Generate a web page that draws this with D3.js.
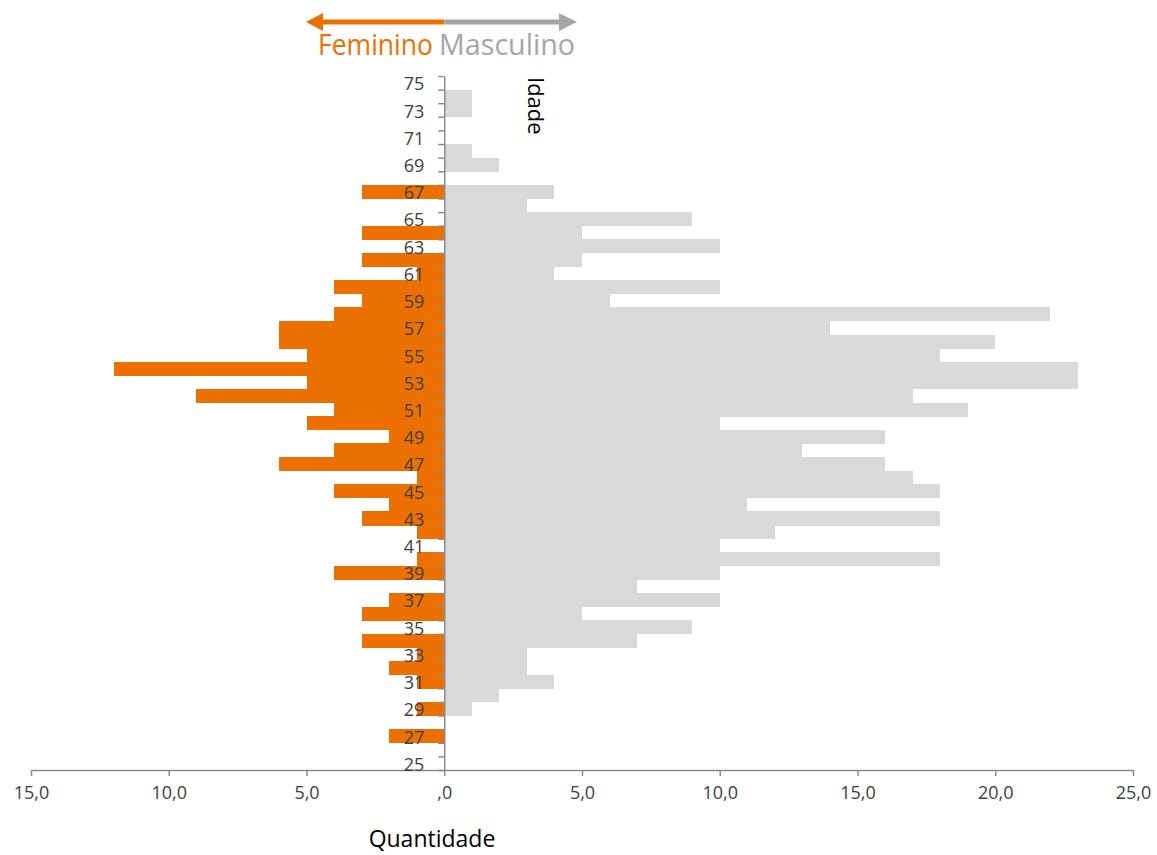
<!DOCTYPE html>
<html>
<head>
<meta charset="utf-8">
<script src="https://cdn.jsdelivr.net/npm/d3@7"></script>
<style>
  html, body { margin: 0; padding: 0; background: #ffffff; }
  svg { display: block; font-family: "Open Sans", "Noto Sans", sans-serif; }
</style>
</head>
<body>
<svg id="chart" width="1157" height="855"></svg>
<script>
// Categories (ages)
const ages = [25,26,27,28,29,30,31,32,33,34,35,36,37,38,39,40,41,42,43,44,45,46,47,48,49,50,
              51,52,53,54,55,56,57,58,59,60,61,62,63,64,65,66,67,68,69,70,71,72,73,74,75];
// Female counts by age (25..75)
const feminino = [0,0,2,0,1,0,1,2,1,3,0,3,2,0,4,1,0,1,3,2,4,1,6,4,2,5,
                  4,9,5,12,5,6,6,4,3,4,1,3,0,3,0,0,3,0,0,0,0,0,0,0,0];
// Male counts by age (25..75)
const masculino = [0,0,0,0,1,2,4,3,3,7,9,5,10,7,10,18,10,12,18,11,18,17,16,13,16,10,
                   19,17,23,23,18,20,14,22,6,10,4,5,10,5,9,3,4,0,2,1,0,0,1,1,0];
// Tick labels
const xTicks = [-15,-10,-5,0,5,10,15,20,25];
const yLabelAges = [25,27,29,31,33,35,37,39,41,43,45,47,49,51,53,55,57,59,61,63,65,67,69,71,73,75];

const ORANGE = "#EC7000";
const GRAY_BAR = "#D9D9D9";
const GRAY_LEG = "#A6A6A6";
const AXIS = "#8C8C8C";
const LABEL = "#404040";

const svg = d3.select("#chart");

const x = d3.scaleLinear().domain([-15, 25]).range([31, 1133]);
const y = d3.scaleBand().domain(ages.slice().reverse()).range([76, 770]).padding(0);
const yEdge = d3.scaleLinear().domain([24.5, 75.5]).range([770, 76]);

// Bars
const gBars = svg.append("g").attr("shape-rendering", "crispEdges");
gBars.selectAll("rect.m").data(ages.map((a, i) => ({a, v: masculino[i]})).filter(d => d.v > 0))
  .join("rect").attr("class", "m")
  .attr("x", x(0)).attr("y", d => y(d.a))
  .attr("width", d => x(d.v) - x(0)).attr("height", y.bandwidth() + 0.5)
  .attr("fill", GRAY_BAR);
gBars.selectAll("rect.f").data(ages.map((a, i) => ({a, v: feminino[i]})).filter(d => d.v > 0))
  .join("rect").attr("class", "f")
  .attr("x", d => x(-d.v)).attr("y", d => y(d.a))
  .attr("width", d => x(0) - x(-d.v)).attr("height", y.bandwidth() + 0.5)
  .attr("fill", ORANGE);

// X axis
const fmt = v => v === 0 ? ",0" : Math.abs(v).toFixed(1).replace(".", ",");
const gx = svg.append("g").attr("transform", "translate(0,770)")
  .call(d3.axisBottom(x).tickValues(xTicks).tickFormat(fmt).tickSize(6).tickSizeOuter(0).tickPadding(6));
gx.select(".domain").attr("stroke", AXIS).attr("stroke-width", 1.5);
gx.selectAll(".tick line").attr("stroke", AXIS).attr("stroke-width", 1.5);
gx.selectAll(".tick text").attr("fill", LABEL).attr("font-size", 18)
  .attr("font-family", "'Open Sans', sans-serif").attr("dy", "0.95em");

// Y axis: boundary ticks
const edges = d3.range(0, 52).map(i => 24.5 + i);
const gyTicks = svg.append("g").attr("transform", `translate(${x(0)},0)`)
  .call(d3.axisLeft(yEdge).tickValues(edges).tickFormat("").tickSize(6).tickSizeOuter(0));
gyTicks.select(".domain").attr("stroke", AXIS).attr("stroke-width", 1.5);
gyTicks.selectAll(".tick line").attr("stroke", AXIS).attr("stroke-width", 1.5);

// Y axis labels (odd ages)
const gyLab = svg.append("g").attr("transform", `translate(${x(0)},0)`)
  .call(d3.axisLeft(y).tickValues(yLabelAges).tickSize(0).tickPadding(20));
gyLab.select(".domain").remove();
gyLab.selectAll(".tick text").attr("fill", LABEL).attr("font-size", 18)
  .attr("font-family", "'Open Sans', sans-serif").attr("dy", "0.42em");

// Axis titles
svg.append("text").attr("x", 432).attr("y", 847).attr("text-anchor", "middle")
  .attr("font-size", 23).attr("fill", "#000").text("Quantidade");
svg.append("text").attr("transform", "translate(528,77) rotate(90)")
  .attr("font-size", 22).attr("fill", "#000").text("Idade");

// Legend arrows
const ly = 22;
svg.append("line").attr("x1", x(0)).attr("x2", 320).attr("y1", ly).attr("y2", ly)
  .attr("stroke", ORANGE).attr("stroke-width", 5);
svg.append("path").attr("d", `M306,${ly} L323,${ly-9} L323,${ly+9} Z`).attr("fill", ORANGE);
svg.append("line").attr("x1", x(0)).attr("x2", 562).attr("y1", ly).attr("y2", ly)
  .attr("stroke", GRAY_LEG).attr("stroke-width", 5);
svg.append("path").attr("d", `M577,${ly} L559,${ly-9} L559,${ly+9} Z`).attr("fill", GRAY_LEG);

svg.append("text").attr("x", 318).attr("y", 55).attr("font-size", 29)
  .attr("fill", ORANGE).attr("textLength", 115).attr("lengthAdjust", "spacingAndGlyphs").text("Feminino");
svg.append("text").attr("x", 439).attr("y", 55).attr("font-size", 29)
  .attr("fill", GRAY_LEG).attr("textLength", 136).attr("lengthAdjust", "spacingAndGlyphs").text("Masculino");
</script>
</body>
</html>
